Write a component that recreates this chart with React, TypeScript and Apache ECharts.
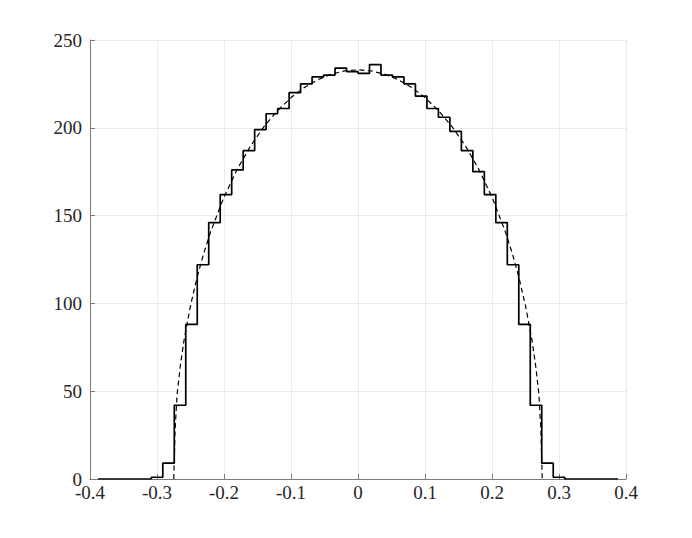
import React, { useEffect, useRef } from "react";
import * as echarts from "echarts";

// Histogram (stairs): bin edges start and width, counts per bin
const binStart = -0.3085;
const binWidth = 0.01714;
const counts = [
  1, 9, 42, 88, 122, 146, 162, 176, 187, 199, 208, 211, 220, 225, 229, 230, 234, 232,
  231, 236, 230, 229, 225, 218, 211, 206, 198, 187, 175, 162, 146, 122, 88, 42, 9, 1,
];
const tailLeft = -0.388;
const tailRight = 0.388;

// Dashed theoretical curve
const curveX = [
  -0.275, -0.273, -0.27, -0.265, -0.26, -0.25, -0.24, -0.23, -0.22, -0.2, -0.18, -0.16,
  -0.14, -0.12, -0.1, -0.08, -0.06, -0.04, -0.02, 0, 0.02, 0.04, 0.06, 0.08, 0.1, 0.12,
  0.14, 0.16, 0.18, 0.2, 0.22, 0.23, 0.24, 0.25, 0.26, 0.265, 0.27, 0.273, 0.275,
];
const curveY = [
  0, 28, 48.3, 65.1, 78.2, 98.7, 115.1, 128.8, 140.7, 160.6, 176.6, 189.9, 200.8, 209.8,
  217.2, 223.0, 227.4, 230.5, 232.4, 233, 232.4, 230.5, 227.4, 223.0, 217.2, 209.8, 200.8,
  189.9, 176.6, 160.6, 140.7, 128.8, 115.1, 98.7, 78.2, 65.1, 48.3, 28, 0,
];

const xTicks = { min: -0.4, max: 0.4, interval: 0.1 };
const yTicks = { min: 0, max: 250, interval: 50 };

export default function App() {
  const ref = useRef<HTMLDivElement>(null);
  useEffect(() => {
    if (!ref.current) return;
    const chart = echarts.init(ref.current, null, { renderer: "svg" });

    const stairs: number[][] = [[tailLeft, 0]];
    counts.forEach((c, i) => {
      stairs.push([+(binStart + i * binWidth).toFixed(5), c]);
    });
    stairs.push([+(binStart + counts.length * binWidth).toFixed(5), 0]);
    stairs.push([tailRight, 0]);

    const curve = curveX.map((x, i) => [x, curveY[i]]);

    const axisGray = "#7a7a7a";
    const labelStyle = {
      color: "#262626",
      fontFamily: "Liberation Serif, Times New Roman, serif",
      fontSize: 19,
    };

    chart.setOption({
      animation: false,
      backgroundColor: "#ffffff",
      grid: { left: 90, right: 66, top: 40, bottom: 59, containLabel: false },
      xAxis: {
        type: "value",
        min: xTicks.min,
        max: xTicks.max,
        interval: xTicks.interval,
        axisLine: { show: true, onZero: false, lineStyle: { color: axisGray, width: 1 } },
        axisTick: { show: true, inside: true, length: 5, lineStyle: { color: axisGray } },
        axisLabel: {
          ...labelStyle,
          margin: 4,
          formatter: (v: number) => {
            const r = Math.round(v * 10) / 10;
            return r === 0 ? "0" : String(r);
          },
        },
        splitLine: { show: true, lineStyle: { color: "#ebebeb", width: 1 } },
      },
      yAxis: {
        type: "value",
        min: yTicks.min,
        max: yTicks.max,
        interval: yTicks.interval,
        axisLine: { show: true, onZero: false, lineStyle: { color: axisGray, width: 1 } },
        axisTick: { show: true, inside: true, length: 5, lineStyle: { color: axisGray } },
        axisLabel: { ...labelStyle, margin: 8 },
        splitLine: { show: true, lineStyle: { color: "#ebebeb", width: 1 } },
      },
      series: [
        {
          type: "line",
          data: curve,
          showSymbol: false,
          symbol: "none",
          lineStyle: { color: "#000", width: 1.2, type: [5, 3.5] },
          z: 2,
        },
        {
          type: "line",
          data: stairs,
          step: "end",
          showSymbol: false,
          symbol: "none",
          lineStyle: { color: "#000", width: 1.7 },
          z: 3,
        },
      ],
    });
    return () => chart.dispose();
  }, []);

  return (
    <div
      ref={ref}
      style={{ position: "absolute", left: 0, top: 0, width: 692, height: 538, background: "#fff" }}
    />
  );
}
